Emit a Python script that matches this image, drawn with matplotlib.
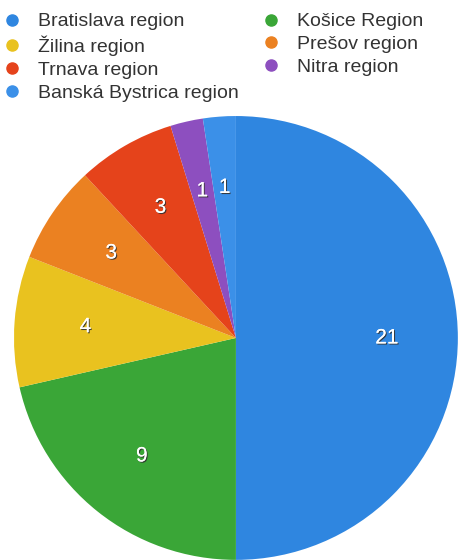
import matplotlib
matplotlib.use("Agg")
import matplotlib.pyplot as plt
import matplotlib.patheffects as pe
from matplotlib.lines import Line2D

regions = ["Bratislava region", "Košice Region", "Žilina region", "Prešov region",
           "Trnava region", "Nitra region", "Banská Bystrica region"]
values = [21, 9, 4, 3, 3, 1, 1]
colors = ["#2f86e0", "#3aa637", "#e9c21f", "#eb8121", "#e5431b", "#8d4fbf", "#3b90e8"]

plt.rcParams['font.family'] = ['Liberation Sans', 'DejaVu Sans']

fig = plt.figure(figsize=(4.59, 5.6), dpi=100)
ax = fig.add_axes([0.0305, 0.0, 0.967, 0.793])
wedges, texts = ax.pie(values, colors=colors, startangle=90, counterclock=False,
                       labels=[str(v) for v in values], labeldistance=0.68,
                       textprops=dict(color="white", fontsize=15))
for t in texts:
    t.set_ha("center")
    t.set_va("center")
    t.set_path_effects([pe.withSimplePatchShadow(offset=(0.8, -0.8), shadow_rgbFace="#333333", alpha=0.9), pe.Normal()])
ax.set_xlim(-1, 1)
ax.set_ylim(-1, 1)
ax.set_aspect("equal")

order = [0, 2, 4, 6, 1, 3, 5]
handles = [Line2D([], [], marker="o", linestyle="none", markersize=8,
                  markerfacecolor=colors[i], markeredgecolor=colors[i]) for i in order]
labels = [regions[i] for i in order]
fig.legend(handles, labels, ncol=2, loc="upper left", bbox_to_anchor=(-0.021, 0.998),
           frameon=False, fontsize=14, handletextpad=0.85, columnspacing=1.15,
           labelspacing=0.27, borderaxespad=0.2, handlelength=1.0,
           labelcolor="#333333")

fig.savefig("out.png", dpi=100)
